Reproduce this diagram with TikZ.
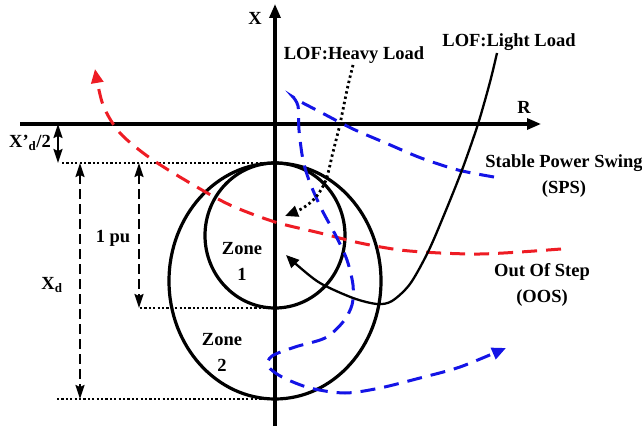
\documentclass[tikz,border=0pt]{standalone}
\usepackage{fontspec}
\setmainfont{Liberation Serif}
\usepackage{tikz}
\usetikzlibrary{arrows.meta, calc}
\definecolor{rojo}{HTML}{EE1C24}
\definecolor{azul}{HTML}{1414E6}
\tikzset{
  eje/.style={line width=3.2pt, -{Triangle[length=14pt, width=11pt]}},
  zona/.style={line width=3.2pt},
  guia/.style={line width=2.4pt, dash pattern=on 2.2pt off 2.2pt},
  cota/.style={line width=2pt, {Stealth[length=14pt, width=9pt, inset=2pt]}-{Stealth[length=14pt, width=9pt, inset=2pt]}},
  etiqueta/.style={font=\fontsize{18.5}{26}\selectfont\bfseries, align=center, inner sep=0pt},
  oscila/.style={line width=3pt, dash pattern=on 15pt off 9pt}
}

\begin{document}
\begin{tikzpicture}[x=1pt, y=-1pt,
  punta/.style={-{Triangle[length=14pt, width=12pt]}},
  trayecto/.style={line width=2.3pt}]
  \useasboundingbox (0,0) rectangle (642,430);

  % --- Ejes ---
  \coordinate (O) at (275,124);
  \coordinate (ejeXa) at (275,426);
  \coordinate (ejeXb) at (275,4);
  \coordinate (ejeRa) at (20,124);
  \coordinate (ejeRb) at (541,124);
  \draw[eje] (ejeXa) -- (ejeXb);
  \draw[eje] (ejeRa) -- (ejeRb);
  \node[etiqueta] (lblX) at (255,18) {X};
  \node[etiqueta] (lblR) at (524,107) {R};

  % --- Zonas ---
  \coordinate (tope) at (275,163);
  \coordinate (fondo1) at (275,308);
  \coordinate (fondo2) at (275,399);
  \draw[zona] (275,235.5) ellipse [x radius=70, y radius=72.5];
  \draw[zona] (275,281) ellipse [x radius=106, y radius=118];
  \node[etiqueta] (zona1) at (242,261) {Zone\\1};
  \node[etiqueta] (zona2) at (222,352) {Zone\\2};

  % --- Cotas ---
  \coordinate (g1) at (62,163);
  \coordinate (g2) at (140,308);
  \coordinate (g3) at (57,399);
  \draw[guia] (g1) -- (tope);
  \draw[guia] (g2) -- (fondo1);
  \draw[guia] (g3) -- (fondo2);
  \draw[cota] (58,124) -- (58,163);
  \draw[cota, dash pattern=on 10pt off 5pt] (80,163) -- (80,399);
  \draw[cota, dash pattern=on 10pt off 5pt] (139,163) -- (139,308);
  \node[etiqueta] (xd2) at (30,143) {X’\textsubscript{d}/2};
  \node[etiqueta] (pu) at (113,238) {1 pu};
  \node[etiqueta] (xd) at (52,285) {X\textsubscript{d}};

  % --- Trayectorias ---
  \draw[oscila, rojo, punta] plot[smooth] coordinates {(561,249) (520,252) (480,254)
    (440,253) (400,250) (360,243) (320,233) (275,222) (230,205) (190,183) (150,158)
    (120,133) (103,105) (95,69)};
  \draw[oscila, azul, punta] plot[smooth] coordinates {(494,177) (458,170) (421,158)
    (388,144) (353,129) (324,114) (301,102)}
    -- plot[smooth] coordinates {(293,97) (298,106) (299,130) (303,160) (310,183)
    (322,210) (336,236) (347,260) (353,285) (352,305) (343,322) (325,338) (295,347)
    (272,356) (268,366) (282,377) (310,388) (345,393) (380,388) (420,378) (460,367)
    (506,348)};
  \draw[trayecto, -{Triangle[length=13pt, width=11pt]}] plot[smooth] coordinates {(497,53)
    (490,82) (478,124) (462,170) (444,215) (428,252) (410,284) (392,301) (377,304)
    (353,298) (320,283) (297,265) (286,255)};
  \draw[trayecto, line width=2.8pt, dash pattern=on 2.4pt off 3pt, -{Triangle[length=13pt, width=11pt]}]
    plot[smooth] coordinates {(353,65) (347,90) (340,124) (333,152) (326,180) (316,197)
    (303,208) (285,216)};
  \node[etiqueta] (lofp) at (354,55) {LOF:Heavy Load};
  \node[etiqueta] (lofl) at (509,42) {LOF:Light Load};
  \node[etiqueta] (sps) at (564,176) {Stable Power Swing\\(SPS)};
  \node[etiqueta] (oos) at (542,285) {Out Of Step\\(OOS)};

\end{tikzpicture}
\end{document}
